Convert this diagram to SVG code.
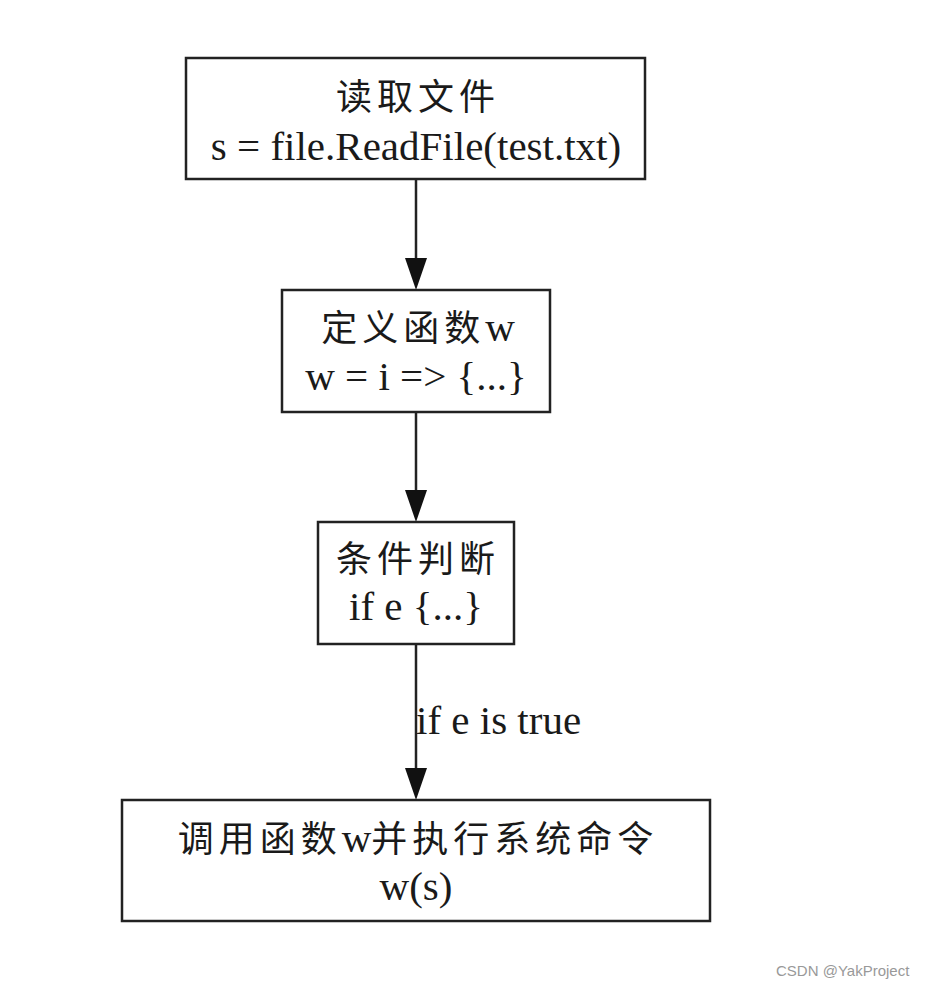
<svg xmlns="http://www.w3.org/2000/svg" width="927" height="988" viewBox="0 0 927 988">
<defs>
<style>
.box{fill:#fff;stroke:#222;stroke-width:2.5}
.t{font-family:"Liberation Serif","Noto Sans CJK SC",serif;font-size:41px;fill:#1a1a1a;text-anchor:middle}
.cjk{font-size:36px;letter-spacing:5px}
.edge{stroke:#222;stroke-width:2.5;fill:none}
.wm{font-family:"Liberation Sans",Arial,sans-serif;font-size:15px;fill:#999}
</style>
</defs>
<rect width="927" height="988" fill="#fff"/>
<g id="connectors">
<path class="edge" d="M416,180 L416,258" />
<polygon points="405,258 427,258 416,290" fill="#111"/>
<path class="edge" d="M416,412 L416,490" />
<polygon points="405,490 427,490 416,522" fill="#111"/>
<path class="edge" d="M416,644 L416,768" />
<polygon points="405,768 427,768 416,800" fill="#111"/>
<text class="t" x="416" y="734" style="text-anchor:start">if e is true</text>
</g>
<g id="n1">
<rect class="box" x="186" y="58" width="459" height="121"/>
<text class="t cjk" x="418" y="110">读取文件</text>
<text class="t" x="416" y="160">s = file.ReadFile(test.txt)</text>
</g>
<g id="n2">
<rect class="box" x="282" y="290" width="268" height="122"/>
<text class="t" x="418" y="341"><tspan class="cjk">定义函数</tspan>w</text>
<text class="t" x="416" y="390">w = i =&gt; {...}</text>
</g>
<g id="n3">
<rect class="box" x="318" y="522" width="196" height="122"/>
<text class="t cjk" x="418" y="572">条件判断</text>
<text class="t" x="416" y="620">if e {...}</text>
</g>
<g id="n4">
<rect class="box" x="122" y="800" width="588" height="121"/>
<text class="t" x="418" y="852"><tspan class="cjk">调用函数</tspan>w<tspan class="cjk">并执行系统命令</tspan></text>
<text class="t" x="416" y="900">w(s)</text>
</g>
<text class="wm" x="776" y="976">CSDN @YakProject</text>
</svg>
